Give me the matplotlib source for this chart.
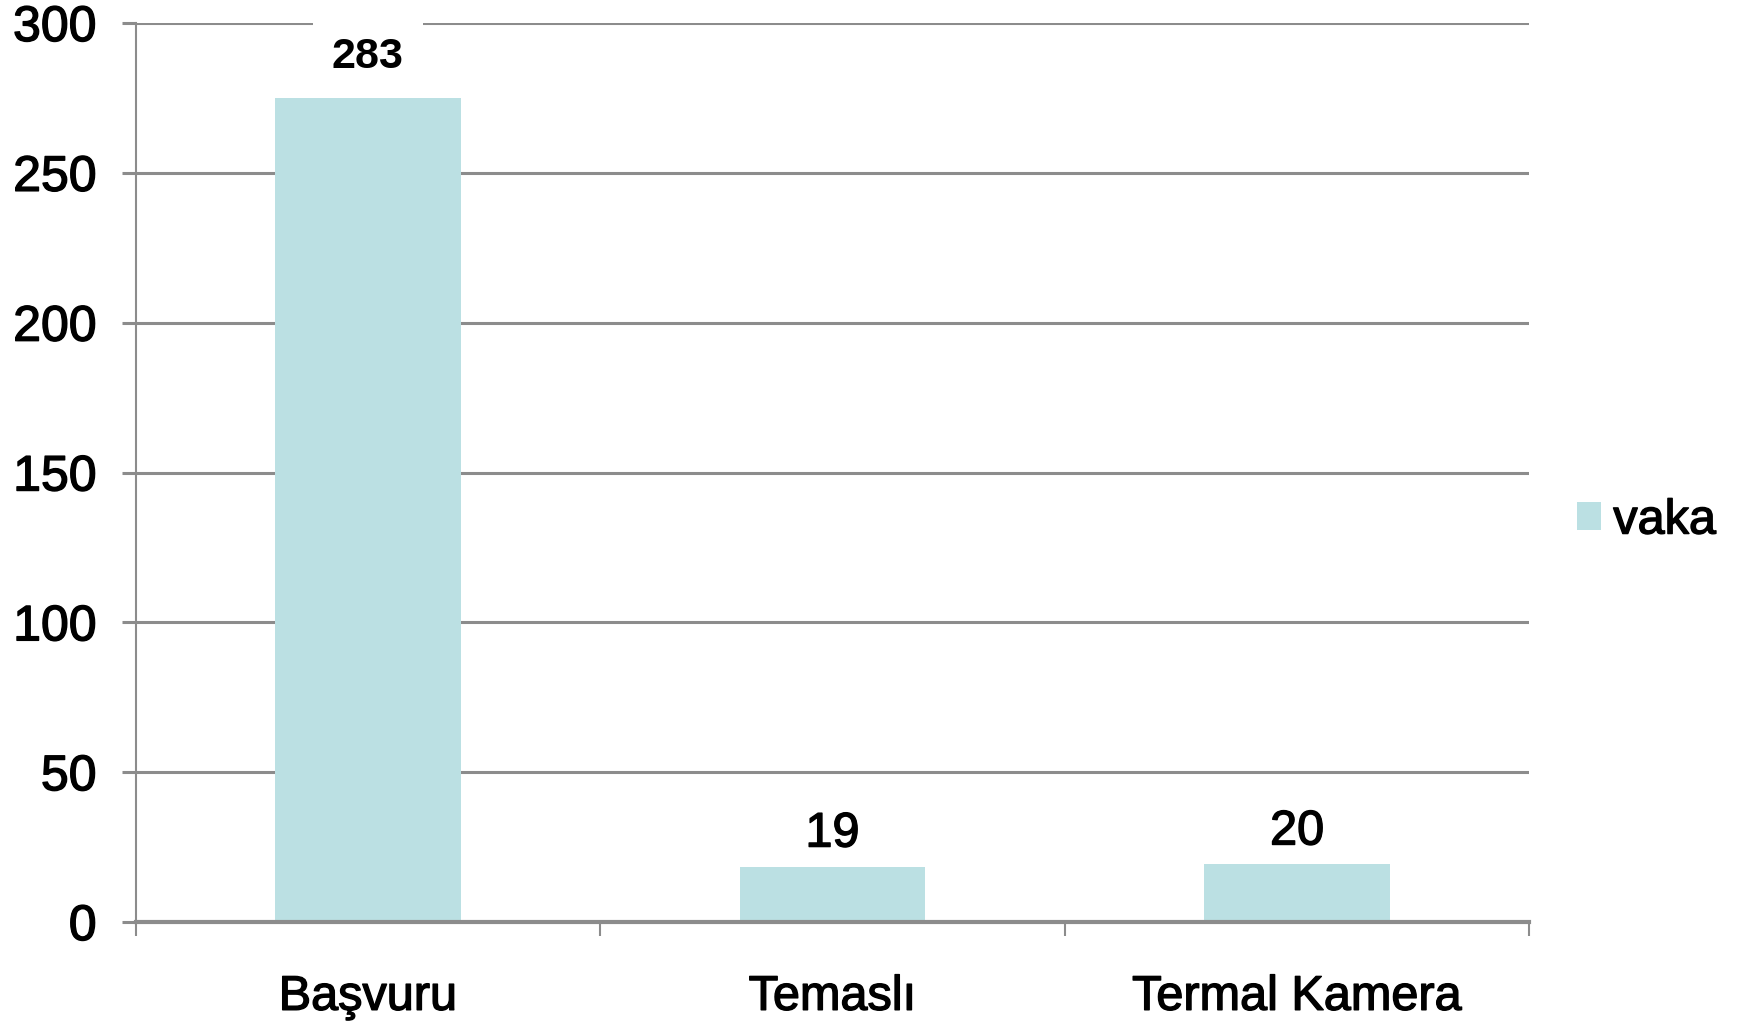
import matplotlib.pyplot as plt
import matplotlib.patheffects as pe

# values
categories = ['Başvuru', 'Temaslı', 'Termal Kamera']
bar_heights = [275, 18.5, 19.2]          # drawn heights
bar_labels = ['283', '19', '20']         # printed labels
label_bold = [True, False, False]
series_name = 'vaka'
yticks = [0, 50, 100, 150, 200, 250, 300]

plt.rcParams['font.family'] = ['Liberation Sans', 'DejaVu Sans']

fig = plt.figure(figsize=(17.38, 10.23), dpi=100)
ax = fig.add_axes([0.078, 0.0987, 0.802, 0.8788])

bar_color = '#bbe0e3'
grid_color = '#8c8c8c'
heavy = [pe.withStroke(linewidth=1.0, foreground='black')]

x = list(range(len(categories)))
bars = ax.bar(x, bar_heights, width=0.4, color=bar_color, zorder=2, label=series_name)

ax.set_ylim(0, 300)
ax.set_xlim(-0.5, len(categories) - 0.5)
ax.set_yticks(yticks)
ax.set_yticklabels([str(v) for v in yticks], fontsize=36, path_effects=heavy)
ax.yaxis.grid(True, color=grid_color, linewidth=2.2, zorder=0)
ax.set_axisbelow(True)

# category labels centred, ticks at category boundaries
ax.set_xticks(x)
ax.set_xticklabels(categories, fontsize=35, path_effects=heavy)
ax.tick_params(axis='x', length=0, pad=38)
ax.set_xticks([i - 0.5 for i in range(len(categories) + 1)], minor=True)
ax.tick_params(axis='x', which='minor', length=10, width=1.5, color=grid_color, direction='out')
ax.tick_params(axis='y', length=10, width=2.2, color=grid_color, pad=18)

for s in ['top', 'right']:
    ax.spines[s].set_visible(False)
ax.spines['left'].set_color(grid_color)
ax.spines['left'].set_linewidth(1.5)
ax.spines['bottom'].set_color(grid_color)
ax.spines['bottom'].set_linewidth(3)

# value labels
for rect, lab, bold in zip(bars, bar_labels, label_bold):
    cx = rect.get_x() + rect.get_width() / 2
    top = rect.get_height()
    if bold:
        ax.annotate(lab, (cx, top), xytext=(0, 21), textcoords='offset pixels',
                    ha='center', va='bottom', fontsize=31, fontweight='bold',
                    bbox=dict(boxstyle='square,pad=0.45', fc='white', ec='none'),
                    zorder=1.5, annotation_clip=False)
    else:
        ax.annotate(lab, (cx, top), xytext=(0, 10), textcoords='offset pixels',
                    ha='center', va='bottom', fontsize=35, zorder=5,
                    path_effects=heavy)

leg = ax.legend(loc='center left', bbox_to_anchor=(1.034, 0.446), frameon=False,
                fontsize=35, handlelength=0.5, handleheight=0.5, handletextpad=0.25,
                borderaxespad=0, borderpad=0)
for t in leg.get_texts():
    t.set_path_effects(heavy)

fig.savefig('out.png', dpi=100)
